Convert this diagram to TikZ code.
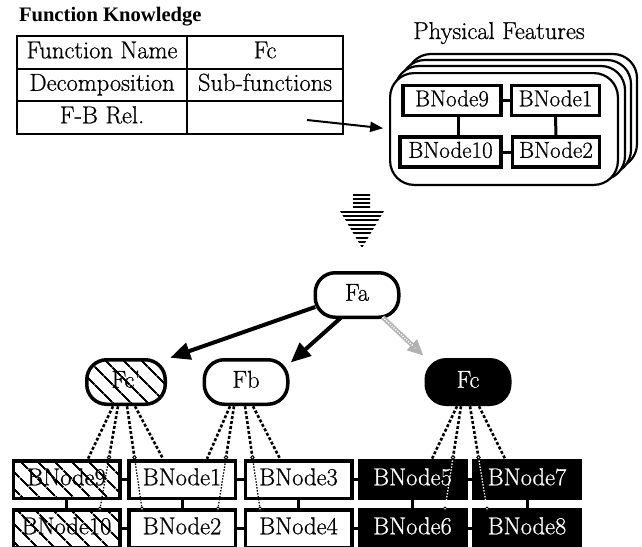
\documentclass[tikz,border=0pt]{standalone}
\usepackage{fontspec}
\newfontfamily\heavyrm{Latin Modern Roman}[FakeBold=0.7]
\newfontfamily\titlefont{Liberation Serif}
\usetikzlibrary{arrows.meta,patterns.meta,calc}
\begin{document}
\begin{tikzpicture}[x=1pt,y=-1pt,
  every node/.style={font=\heavyrm\fontsize{24.5}{28}\selectfont, inner sep=0pt, outer sep=0pt},
  txt/.style={text height=16.5pt, text depth=5pt},
  cell/.style={draw, txt, line width=1.6pt, minimum height=32.5pt},
  pbox/.style={draw, txt, line width=3.2pt, fill=white, minimum height=30pt, font=\heavyrm\fontsize{23}{27}\selectfont},
  layer/.style={draw, line width=2.2pt, fill=white, rounded corners=24pt},
  func/.style={draw, txt, line width=3.5pt, rounded corners=20pt, minimum width=83.5pt, minimum height=44.5pt},
  gbox/.style={draw, txt, line width=3.5pt, minimum width=106.5pt, minimum height=37.5pt},
  hatched/.style={pattern={Lines[angle=-45,distance=13pt,line width=2pt]}},
  darkbox/.style={fill=black, text=white},
  link/.style={line width=3pt},
  fat/.style={line width=4pt, -{Triangle[length=20pt,width=17pt]}},
  ghost/.style={line width=4.5pt, draw=gray!60, -{Triangle[length=16pt,width=14pt,fill=gray!40]}},
  ghostcore/.style={line width=1.4pt, draw=white, dash pattern=on 1.2pt off 1.3pt},
  trace/.style={line width=2.6pt, dash pattern=on 3pt off 2pt},
  fine/.style={line width=1.3pt, dash pattern=on 1.4pt off 1.6pt},
  tick/.style={line width=0.9pt, fill=white},
]
\useasboundingbox (0,0) rectangle (642,546);
\clip (0,0) rectangle (642,546);

% ---------- function knowledge table ----------
\node[font=\titlefont\bfseries\fontsize{20.6}{24}\selectfont, anchor=west] (title) at (19,17) {Function Knowledge};
\node[cell, minimum width=170pt] (c11) at (102,52.5) {Function Name};
\node[cell, minimum width=156pt] (c12) at (265,52.5) {Fc};
\node[cell, minimum width=170pt] (c21) at (102,85) {Decomposition};
\node[cell, minimum width=156pt] (c22) at (265,85) {Sub-functions};
\node[cell, minimum width=170pt] (c31) at (102,117.5) {F-B Rel.};
\node[cell, minimum width=156pt] (c32) at (265,117.5) {};

% ---------- physical features stack ----------
\node (pflabel) at (499,33) {Physical Features};
\foreach \k in {3,2,1}
  \draw[layer] ($(389,72)+(6*\k,-6*\k)$) rectangle ($(619,186)+(6*\k,-6*\k)$);
\node[layer, minimum width=227.8pt, minimum height=111.8pt] (stack) at (504,129) {};
\node[pbox, minimum width=98pt]  (p9)  at (452,100.5) {BNode9};
\node[pbox, minimum width=88pt]  (p1)  at (555.5,100.5) {BNode1};
\node[pbox, minimum width=101pt] (p10) at (450.5,152) {BNode10};
\node[pbox, minimum width=87pt]  (p2)  at (556,152) {BNode2};
\draw[link] (p9) -- (p1);
\draw[link] (p10) -- (p2);
\draw[link] ([xshift=6pt]p9.south) -- ([xshift=7.5pt]p10.north);
\draw[link] (p1.south) -- (p2.north);

\coordinate (fbsrc) at (307,120);
\draw[line width=2pt, -{Triangle[length=13pt,width=10pt]}, shorten >=7pt] (fbsrc) -- (stack.west);

% ---------- striped down arrow ----------
\begin{scope}
  \clip (353,193) -- (370,193) -- (370,211) -- (384,211) -- (362,248) -- (340,211) -- (353,211) -- cycle;
  \foreach \y in {194.5,198.8,...,250} \draw[line width=2pt] (330,\y) -- (395,\y);
\end{scope}

% ---------- function tree ----------
\node[func] (Fa) at (357,295) {Fa};
\node[func, hatched, minimum width=78.5pt] (Fcp) at (126,382) {Fc'};
\node[func] (Fb) at (246,382) {Fb};
\node[func, darkbox] (Fc) at (468,382) {Fc};
\draw[fat, shorten >=6pt] (Fa.196) -- (Fcp.30);
\draw[fat, shorten >=4pt] (Fa.235) -- (Fb.22);
\draw[ghost, shorten >=6pt] (Fa.-41) -- (Fc.151);
\draw[ghostcore, shorten >=20pt] (Fa.-41) -- (Fc.151);

% ---------- behaviour node grid ----------
\node[gbox, hatched] (g9)  at (66.5,479.5) {BNode9};
\node[gbox] (g1)  at (182,479.5) {BNode1};
\node[gbox] (g3)  at (298.5,479.5) {BNode3};
\node[gbox, darkbox] (g5)  at (412.5,479.5) {BNode5};
\node[gbox, darkbox] (g7)  at (527,479.5) {BNode7};
\node[gbox, hatched] (g10) at (66.5,528.5) {BNode10};
\node[gbox] (g2)  at (182,528.5) {BNode2};
\node[gbox] (g4)  at (298.5,528.5) {BNode4};
\node[gbox, darkbox] (g6)  at (412.5,528.5) {BNode6};
\node[gbox, darkbox] (g8)  at (527,528.5) {BNode8};
\foreach \a/\b in {g9/g1,g1/g3,g3/g5,g5/g7,g10/g2,g2/g4,g4/g6,g6/g8,g9/g10,g1/g2,g3/g4,g5/g6,g7/g8}
  \draw[link] (\a) -- (\b);

% ---------- mapping traces ----------
% short traces: function node -> first row
\foreach \f/\sx/\g/\ex in {Fcp/-13/g9/21.5, Fcp/9/g1/-19, Fb/-16/g1/25, Fb/7/g3/-18.5, Fc/-11/g5/19.5, Fc/11/g7/-22}
  \draw[trace] ($(\f.south)+(\sx,2)$) coordinate (s) -- ($(\g.north)+(\ex,-2)$) coordinate (e);
% long traces: through the first row down to the second
\foreach \f/\sx/\g/\ex/\col in {Fcp/-8/g10/33.5/black, Fcp/1/g2/-40/black, Fb/-12/g2/36/black, Fb/-1/g4/-38.5/black, Fc/-7/g6/32.5/white, Fc/2/g8/-40/white}{
  \coordinate (s) at ($(\f.south)+(\sx,2)$);
  \coordinate (e) at ($(\g.north)+(\ex,-1)$);
  \coordinate (m) at ($(s)!0.5!(e)$);
  \draw[trace] (s) -- (m);
  \draw[fine, draw=\col] (m) -- (e);
  \draw[tick] (m) circle[radius=1.8pt];
  \draw[tick] (e) circle[radius=1.8pt];
}
\end{tikzpicture}
\end{document}
